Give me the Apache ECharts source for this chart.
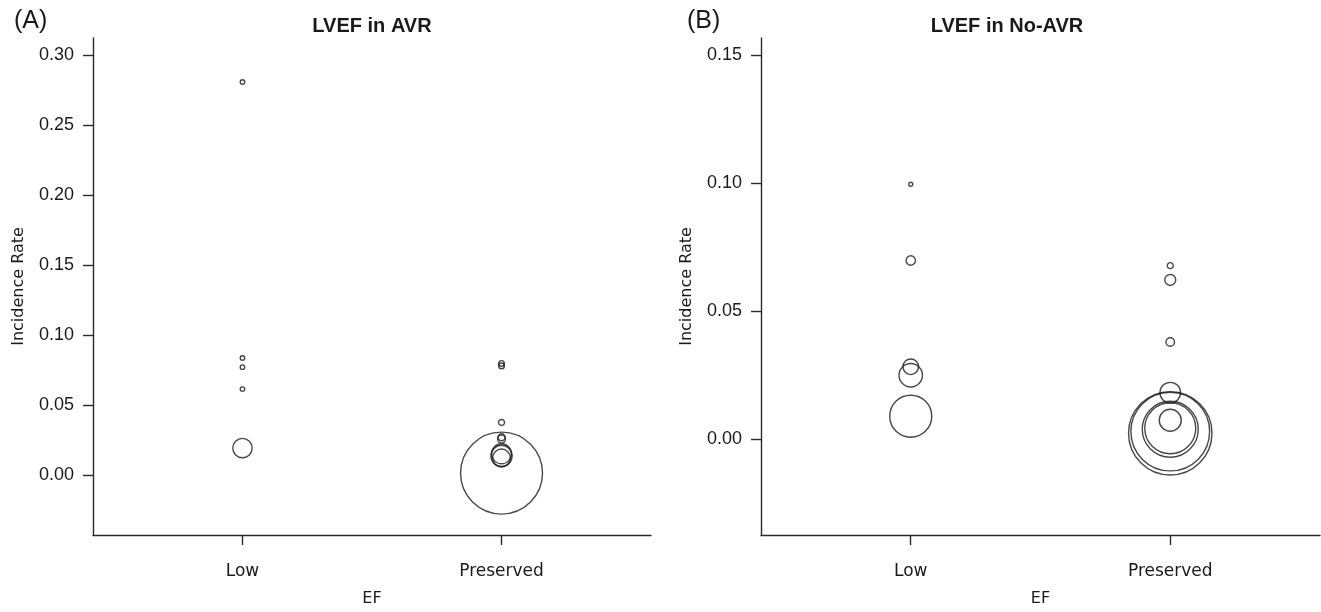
<!DOCTYPE html>
<html><head><meta charset="utf-8">
<script src="https://cdn.jsdelivr.net/npm/echarts@6/dist/echarts.min.js"></script>
<style>html,body{margin:0;padding:0;background:#fff}#c{width:1321px;height:612px}</style>
</head><body><div id="c"></div>
<script>
// Categories (x positions 1 and 2)
const categories = ['Low', 'Preserved'];
// Panel A: LVEF in AVR
const avrLowRate = [0.2806, 0.0834, 0.0769, 0.0612, 0.0191];
const avrLowWeight = [5, 5, 5, 5, 94];
const avrPresRate = [0.0795, 0.0778, 0.0374, 0.0268, 0.0255, 0.0150, 0.0135, 0.0120, 0.0012];
const avrPresWeight = [8, 8, 9, 12, 16, 100, 112, 80, 1680];
// Panel B: LVEF in No-AVR
const noavrLowRate = [0.0995, 0.0697, 0.0282, 0.0249, 0.0089];
const noavrLowWeight = [4, 22, 61, 137, 441];
const noavrPresRate = [0.0677, 0.0621, 0.0379, 0.0181, 0.0073, 0.0042, 0.0038, 0.0029, 0.0022];
const noavrPresWeight = [9, 30, 18, 106, 121, 650, 784, 1550, 1740];
// Tick labels
const avrTicks = [0, 0.05, 0.10, 0.15, 0.20, 0.25, 0.30];
const noavrTicks = [0, 0.05, 0.10, 0.15];

function pts(xIdx, rates, weights) {
  return rates.map((r, i) => [xIdx, r, weights[i]]);
}
const chart = echarts.init(document.getElementById('c'));
const axisCol = '#2a2a2a';
function xAxis(gi) {
  return {
    type: 'value', gridIndex: gi, min: 0.423, max: 2.577,
    axisLine: {show: true, onZero: false, lineStyle: {color: axisCol, width: 1.4}},
    axisTick: {show: true, length: 10, customValues: [1, 2], lineStyle: {color: axisCol, width: 1.4}},
    axisLabel: {customValues: [1, 2], formatter: v => categories[Math.round(v) - 1] || '',
      margin: 28, fontFamily: 'DejaVu Sans', fontSize: 17, color: '#1a1a1a'},
    splitLine: {show: false},
    name: 'EF', nameLocation: 'middle', nameGap: 56,
    nameTextStyle: {fontFamily: 'DejaVu Sans', fontSize: 16, color: '#1a1a1a'}
  };
}
function yAxis(gi, min, max, ticks) {
  return {
    type: 'value', gridIndex: gi, min: min, max: max,
    axisLine: {show: true, onZero: false, lineStyle: {color: axisCol, width: 1.4}},
    axisTick: {show: true, length: 10, customValues: ticks, lineStyle: {color: axisCol, width: 1.4}},
    axisLabel: {customValues: ticks, formatter: v => v.toFixed(2), margin: 19,
      fontFamily: 'Liberation Sans', fontSize: 18, color: '#1a1a1a'},
    splitLine: {show: false},
    name: 'Incidence Rate', nameLocation: 'middle', nameGap: 66, nameRotate: 90,
    nameTextStyle: {fontFamily: 'DejaVu Sans', fontSize: 16, color: '#1a1a1a'}
  };
}
function sc(xi, yi, data) {
  return {
    type: 'scatter', xAxisIndex: xi, yAxisIndex: yi, data: data,
    symbol: 'circle', symbolSize: d => 2 * Math.sqrt(d[2]),
    itemStyle: {color: 'rgba(0,0,0,0)', borderColor: '#1a1a1a', borderWidth: 1.4},
    emphasis: {disabled: true}, silent: true, animation: false
  };
}
chart.setOption({
  animation: false,
  title: [
    {text: '(A)', left: 9, top: 4, textStyle: {fontFamily: 'Liberation Sans', fontSize: 25, fontWeight: 'normal', color: '#1a1a1a'}},
    {text: '(B)', left: 682, top: 4, textStyle: {fontFamily: 'Liberation Sans', fontSize: 25, fontWeight: 'normal', color: '#1a1a1a'}},
    {text: 'LVEF in AVR', left: 367, top: 11, textAlign: 'center', textStyle: {fontFamily: 'Liberation Sans', fontSize: 20, fontWeight: 'bold', color: '#1a1a1a'}},
    {text: 'LVEF in No-AVR', left: 1002, top: 11, textAlign: 'center', textStyle: {fontFamily: 'Liberation Sans', fontSize: 20, fontWeight: 'bold', color: '#1a1a1a'}}
  ],
  grid: [
    {left: 93, right: 670, top: 38, bottom: 77},
    {left: 761, right: 1, top: 38, bottom: 77}
  ],
  xAxis: [xAxis(0), xAxis(1)],
  yAxis: [yAxis(0, -0.043, 0.312, avrTicks), yAxis(1, -0.0375, 0.1566, noavrTicks)],
  series: [
    sc(0, 0, pts(1, avrLowRate, avrLowWeight)),
    sc(0, 0, pts(2, avrPresRate, avrPresWeight)),
    sc(1, 1, pts(1, noavrLowRate, noavrLowWeight)),
    sc(1, 1, pts(2, noavrPresRate, noavrPresWeight))
  ]
});
</script></body></html>
